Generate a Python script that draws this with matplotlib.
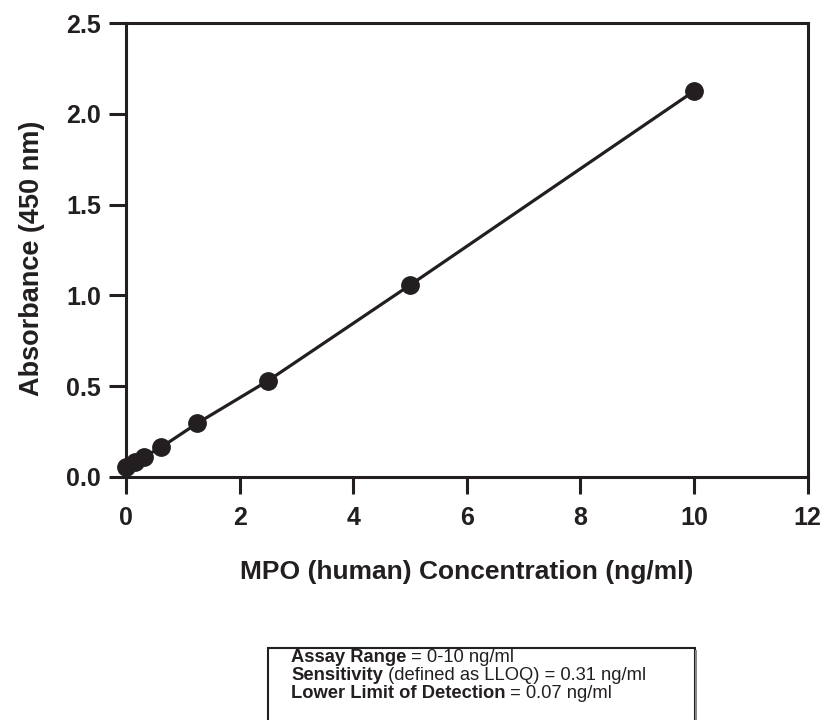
import matplotlib
matplotlib.use("Agg")
import matplotlib.pyplot as plt
from matplotlib.patches import Rectangle

plt.rcParams['font.family'] = ['Liberation Sans', 'DejaVu Sans']

concentration = [0, 0.156, 0.3125, 0.625, 1.25, 2.5, 5, 10]
absorbance = [0.055, 0.083, 0.11, 0.165, 0.295, 0.53, 1.057, 2.125]
x_ticks = [0, 2, 4, 6, 8, 10, 12]
y_ticks = [0.0, 0.5, 1.0, 1.5, 2.0, 2.5]
y_tick_labels = ["0.0", "0.5", "1.0", "1.5", "2.0", "2.5"]

INK = '#231f20'
fig = plt.figure(figsize=(8.25, 7.2), dpi=100)
ax = fig.add_axes([0.1527, 0.3375, 0.979 - 0.1527, 0.968 - 0.3375])
ax.plot(concentration, absorbance, color=INK, lw=2.3, marker='o', ms=12.5,
        markerfacecolor=INK, markeredgecolor=INK, clip_on=False, zorder=3)
ax.set_xlim(0, 12)
ax.set_ylim(0, 2.5)
ax.set_xticks(x_ticks)
ax.set_xticklabels([str(t) for t in x_ticks])
ax.set_yticks(y_ticks)
ax.set_yticklabels(y_tick_labels)
for s in ax.spines.values():
    s.set_linewidth(2.2)
    s.set_color(INK)
ax.tick_params(direction='out', length=12, width=2.2, color=INK,
               labelsize=18, labelcolor=INK)
ax.tick_params(axis='x', pad=9)
ax.tick_params(axis='y', pad=6)
for lab in ax.get_xticklabels() + ax.get_yticklabels():
    lab.set_fontweight('bold')
ax.set_xlabel("MPO (human) Concentration (ng/ml)", fontsize=19, fontweight='bold',
              color=INK)
ax.set_ylabel("Absorbance (450 nm)", fontsize=19.5, fontweight='bold', color=INK)
ax.xaxis.set_label_coords(0.5, (477 - 572) / (477 - 23), transform=ax.transAxes)
ax.xaxis.label.set_va('center')
ax.yaxis.set_label_coords((32 - 126) / (808 - 126), (477 - 258) / (477 - 23),
                          transform=ax.transAxes)
ax.yaxis.label.set_va('center')

# info box
bx0, bx1 = 268 / 825, 695 / 825
by1 = 1 - 648 / 720
rect = Rectangle((bx0, -0.05), bx1 - bx0, by1 + 0.05, transform=fig.transFigure,
                 fill=False, edgecolor=INK, lw=1.5)
fig.patches.append(rect)
shadow = Rectangle((bx1, -0.05), 0.003, by1 + 0.05 - 0.003, transform=fig.transFigure,
                   facecolor='#888888', edgecolor='none')
fig.patches.append(shadow)

tx = 291 / 825
lines = [("Assay Range", " = 0-10 ng/ml"),
         ("Sensitivity", " (defined as LLOQ) = 0.31 ng/ml"),
         ("Lower Limit of Detection", " = 0.07 ng/ml")]
ys = [658, 676, 694]
renderer = fig.canvas.get_renderer()
for (b, n), yp in zip(lines, ys):
    t = fig.text(tx, 1 - yp / 720, b, fontsize=13.2, fontweight='bold', va='center',
                 ha='left', color=INK)
    bb = t.get_window_extent(renderer=renderer)
    x2 = bb.x1 / fig.bbox.width
    fig.text(x2, 1 - yp / 720, n, fontsize=13.2, va='center', ha='left', color=INK)

fig.savefig("out.png", dpi=100)
